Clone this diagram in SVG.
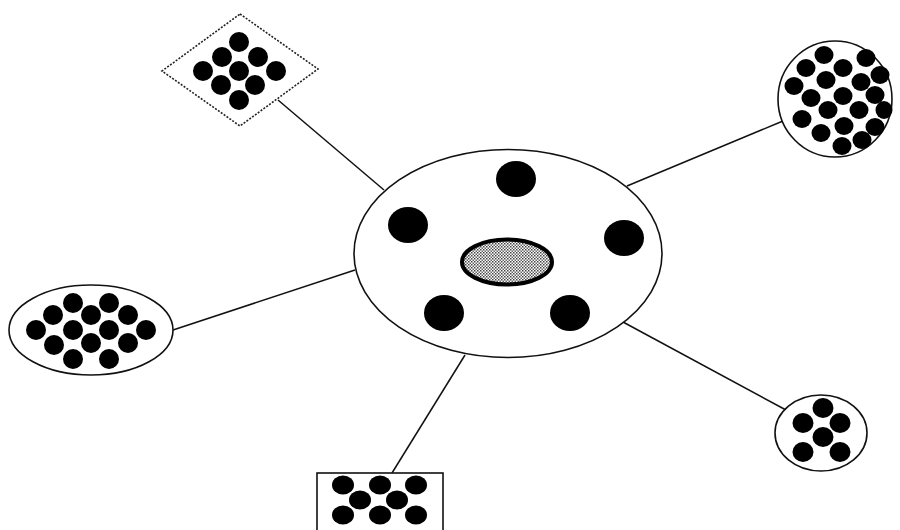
<svg xmlns="http://www.w3.org/2000/svg" width="900" height="530" viewBox="0 0 900 530">
<defs>
<pattern id="dither" width="3" height="3" patternUnits="userSpaceOnUse">
<rect width="3" height="3" fill="#ffffff"/>
<rect x="0" y="0" width="1.5" height="1.5" fill="#444444"/>
<rect x="1.5" y="1.5" width="1.5" height="1.5" fill="#666666"/>
</pattern>
<style>
.edge{stroke:#111;stroke-width:1.5;fill:none}
.shape{fill:#fff;stroke:#111;stroke-width:1.6}
.dotted{fill:#fff;stroke:#222;stroke-width:1.6;stroke-dasharray:2 1.5}
.dot{fill:#000}
</style>
</defs>
<rect width="900" height="530" fill="#fff"/>
<g id="connectors">
<line class="edge" x1="278" y1="100" x2="384" y2="190"/>
<line class="edge" x1="783" y1="121" x2="627" y2="186"/>
<line class="edge" x1="173" y1="330" x2="355" y2="270"/>
<line class="edge" x1="623" y1="322" x2="786" y2="410"/>
<line class="edge" x1="392" y1="473" x2="465" y2="355"/>
</g>
<g id="center">
<ellipse class="shape" cx="508" cy="253.5" rx="154" ry="104"/>
<ellipse class="dot" cx="516" cy="179" rx="20" ry="18"/>
<ellipse class="dot" cx="408" cy="225" rx="20" ry="18"/>
<ellipse class="dot" cx="624" cy="238" rx="20" ry="18"/>
<ellipse class="dot" cx="444" cy="313" rx="20" ry="18"/>
<ellipse class="dot" cx="570" cy="313" rx="20" ry="18"/>
<ellipse cx="507" cy="262" rx="45" ry="22.5" fill="url(#dither)" stroke="#000" stroke-width="4"/>
</g>
<g id="diamond">
<polygon class="dotted" points="240,14 318,69 240,126 162,71"/>
<ellipse class="dot" cx="239" cy="42" rx="10" ry="10"/>
<ellipse class="dot" cx="222" cy="57" rx="10" ry="10"/>
<ellipse class="dot" cx="258" cy="57" rx="10" ry="10"/>
<ellipse class="dot" cx="203" cy="71" rx="10" ry="10"/>
<ellipse class="dot" cx="239" cy="71" rx="10" ry="10"/>
<ellipse class="dot" cx="276" cy="71" rx="10" ry="10"/>
<ellipse class="dot" cx="221" cy="85" rx="10" ry="10"/>
<ellipse class="dot" cx="255" cy="85" rx="10" ry="10"/>
<ellipse class="dot" cx="239" cy="100" rx="10" ry="10"/>
</g>
<g id="topright">
<ellipse class="shape" cx="835" cy="99" rx="57" ry="58"/>
<ellipse class="dot" cx="824" cy="55" rx="9.5" ry="9"/>
<ellipse class="dot" cx="866" cy="58" rx="9.5" ry="9"/>
<ellipse class="dot" cx="806" cy="68" rx="9.5" ry="9"/>
<ellipse class="dot" cx="843" cy="68" rx="9.5" ry="9"/>
<ellipse class="dot" cx="880" cy="75" rx="9.5" ry="9"/>
<ellipse class="dot" cx="794" cy="86" rx="9.5" ry="9"/>
<ellipse class="dot" cx="826" cy="80" rx="9.5" ry="9"/>
<ellipse class="dot" cx="861" cy="82" rx="9.5" ry="9"/>
<ellipse class="dot" cx="811" cy="98" rx="9.5" ry="9"/>
<ellipse class="dot" cx="843" cy="96" rx="9.5" ry="9"/>
<ellipse class="dot" cx="875" cy="95" rx="9.5" ry="9"/>
<ellipse class="dot" cx="828" cy="110" rx="9.5" ry="9"/>
<ellipse class="dot" cx="859" cy="110" rx="9.5" ry="9"/>
<ellipse class="dot" cx="884" cy="110" rx="8.5" ry="9"/>
<ellipse class="dot" cx="802" cy="119" rx="9.5" ry="9"/>
<ellipse class="dot" cx="844" cy="126" rx="9.5" ry="9"/>
<ellipse class="dot" cx="875" cy="127" rx="9.5" ry="9"/>
<ellipse class="dot" cx="821" cy="133" rx="9.5" ry="9"/>
<ellipse class="dot" cx="862" cy="140" rx="9.5" ry="9"/>
<ellipse class="dot" cx="842" cy="146" rx="9.5" ry="9"/>
</g>
<g id="left">
<ellipse class="shape" cx="91" cy="330" rx="82" ry="45"/>
<ellipse class="dot" cx="73" cy="303" rx="10" ry="10"/>
<ellipse class="dot" cx="109" cy="303" rx="10" ry="10"/>
<ellipse class="dot" cx="53" cy="315" rx="10" ry="10"/>
<ellipse class="dot" cx="91" cy="315" rx="10" ry="10"/>
<ellipse class="dot" cx="128" cy="315" rx="10" ry="10"/>
<ellipse class="dot" cx="36" cy="330" rx="10" ry="10"/>
<ellipse class="dot" cx="73" cy="330" rx="10" ry="10"/>
<ellipse class="dot" cx="109" cy="330" rx="10" ry="10"/>
<ellipse class="dot" cx="146" cy="330" rx="10" ry="10"/>
<ellipse class="dot" cx="54" cy="345" rx="10" ry="10"/>
<ellipse class="dot" cx="91" cy="343" rx="10" ry="10"/>
<ellipse class="dot" cx="128" cy="343" rx="10" ry="10"/>
<ellipse class="dot" cx="73" cy="359" rx="10" ry="10"/>
<ellipse class="dot" cx="109" cy="359" rx="10" ry="10"/>
</g>
<g id="bottomright">
<ellipse class="shape" cx="821" cy="433" rx="46" ry="38"/>
<ellipse class="dot" cx="823" cy="408" rx="10.5" ry="10"/>
<ellipse class="dot" cx="803" cy="423" rx="10.5" ry="10"/>
<ellipse class="dot" cx="840" cy="423" rx="10.5" ry="10"/>
<ellipse class="dot" cx="823" cy="437" rx="10.5" ry="10"/>
<ellipse class="dot" cx="803" cy="452" rx="10.5" ry="10"/>
<ellipse class="dot" cx="840" cy="452" rx="10.5" ry="10"/>
</g>
<g id="bottom">
<rect class="shape" x="317" y="473" width="126" height="70"/>
<ellipse class="dot" cx="343" cy="485" rx="11" ry="9.5"/>
<ellipse class="dot" cx="380" cy="485" rx="11" ry="9.5"/>
<ellipse class="dot" cx="416" cy="485" rx="11" ry="9.5"/>
<ellipse class="dot" cx="360" cy="500" rx="11" ry="9.5"/>
<ellipse class="dot" cx="397" cy="500" rx="11" ry="9.5"/>
<ellipse class="dot" cx="343" cy="515" rx="11" ry="9.5"/>
<ellipse class="dot" cx="380" cy="515" rx="11" ry="9.5"/>
<ellipse class="dot" cx="416" cy="515" rx="11" ry="9.5"/>
</g>
</svg>
